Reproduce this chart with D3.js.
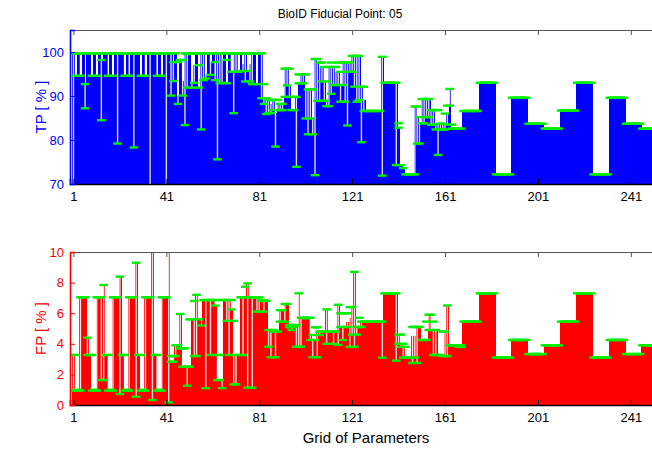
<!DOCTYPE html>
<html>
<head>
<meta charset="utf-8">
<title>BioID Fiducial Point: 05</title>
<script src="https://cdn.jsdelivr.net/npm/d3@7"></script>
<style>
body { margin: 0; background: #fff; }
text { font-family: "Liberation Sans", Arial, Helvetica, sans-serif; }
</style>
</head>
<body>
<script>

// tick labels
var xTicks = [1, 41, 81, 121, 161, 201, 241];
var tpTicks = [70, 80, 90, 100];
var fpTicks = [0, 2, 4, 6, 8, 10];

// TP [%] per grid point (7 points per row)
var tpVal = [
 99.7,94.6,99.7,94.6,99.7,92.7,99.7,
 99.7,94.6,99.7,94.6,99.7,98.2,99.7,
 99.7,94.6,99.7,94.6,99.7,99.7,99.7,
 99.7,94.6,99.7,94.6,99.7,99.7,99.7,
 99.7,94.6,99.7,94.6,99.7,99.7,99.7,
 99.7,94.6,99.7,94.6,99.7,99.7,99.7,
 99.7,97.7,99.7,90.1,98.2,93.4,99.7,
 99.5,99.7,93.0,97.0,99.7,91.9,99.7,
 99.7,94.8,99.7,97.7,99.7,94.5,99.7,
 99.7,98.2,99.7,93.0,99.7,95.2,99.7,
 99.7,95.5,99.7,97.2,99.7,95.7,97.2,
 99.7,99.7,92.7,99.7,99.7,89.5,89.1,
 89.1,88.2,89.1,86.1,88.2,88.0,88.0,
 96.2,96.2,92.4,86.8,86.8,89.8,92.9,
 94.9,94.9,91.5,91.5,91.5,84.9,98.4,
 97.6,96.6,96.6,93.3,88.9,96.6,96.6,
 96.6,95.5,95.5,92.5,97.6,97.6,97.6,
 97.6,99.1,99.1,99.1,99.1,92.1,89.1,
 86.6,86.6,86.6,86.6,86.6,86.6,86.6,
 98.9,93.0,93.0,93.0,93.0,93.0,93.0,
 82.8,74.3,73.6,72.2,72.2,72.2,72.2,
 87.6,85.2,83.8,89.3,89.3,89.3,89.3,
 86.8,86.8,83.7,83.7,83.7,83.7,83.7,
 86.2,91.6,82.6,82.6,82.6,82.6,82.6,
 86.6,86.6,86.6,86.6,86.6,86.6,86.6,
 93.0,93.0,93.0,93.0,93.0,93.0,93.0,
 72.2,72.2,72.2,72.2,72.2,72.2,72.2,
 89.6,89.6,89.6,89.6,89.6,89.6,89.6,
 83.7,83.7,83.7,83.7,83.7,83.7,83.7,
 82.6,82.6,82.6,82.6,82.6,82.6,82.6,
 86.7,86.7,86.7,86.7,86.7,86.7,86.7,
 93.0,93.0,93.0,93.0,93.0,93.0,93.0,
 72.2,72.2,72.2,72.2,72.2,72.2,72.2,
 89.6,89.6,89.6,89.6,89.6,89.6,89.6,
 83.7,83.7,83.7,83.7,83.7,83.7,83.7,
 82.6,82.6,82.6,82.6,82.6,82.6,82.6
];
var tpLo = [
 68.0,94.6,99.7,94.6,99.7,87.2,99.7,
 99.7,94.6,99.7,94.6,99.7,84.5,99.7,
 99.7,94.6,99.7,94.6,99.7,79.2,99.7,
 99.7,94.6,99.7,94.6,99.7,78.3,99.7,
 99.7,94.6,99.7,94.6,99.7,60.0,99.7,
 99.7,94.6,99.7,94.6,99.7,60.0,99.7,
 90.1,93.4,99.7,88.2,98.2,90.1,83.4,
 91.9,99.7,91.9,93.0,99.7,91.9,82.4,
 93.6,94.0,99.7,94.8,99.7,93.6,75.6,
 92.9,93.0,99.7,92.9,99.7,95.5,86.1,
 95.5,95.5,99.7,95.7,93.3,95.7,93.3,
 92.7,99.7,92.7,99.7,89.5,88.2,85.9,
 86.1,86.1,86.8,78.5,86.8,86.8,86.8,
 89.8,92.4,89.8,86.8,86.8,73.9,92.9,
 92.9,92.9,84.9,81.3,84.9,81.3,72.0,
 88.9,88.9,93.3,88.9,87.7,87.7,90.5,
 92.5,92.5,92.5,88.7,92.5,88.7,83.3,
 95.5,95.5,92.1,88.7,89.1,79.5,86.6,
 86.6,86.6,86.6,86.6,86.6,86.6,86.6,
 71.9,93.0,93.0,93.0,93.0,93.0,74.3,
 82.8,74.3,73.6,72.2,72.2,72.2,72.2,
 72.2,79.2,79.2,83.8,83.8,85.2,85.2,
 83.5,83.5,82.4,76.6,82.4,82.4,82.4,
 83.5,87.8,82.6,82.6,82.6,82.6,82.6,
 86.6,86.6,86.6,86.6,86.6,86.6,86.6,
 93.0,93.0,93.0,93.0,93.0,93.0,93.0,
 72.2,72.2,72.2,72.2,72.2,72.2,72.2,
 89.6,89.6,89.6,89.6,89.6,89.6,89.6,
 83.7,83.7,83.7,83.7,83.7,83.7,83.7,
 82.6,82.6,82.6,82.6,82.6,82.6,82.6,
 86.7,86.7,86.7,86.7,86.7,86.7,86.7,
 93.0,93.0,93.0,93.0,93.0,93.0,93.0,
 72.2,72.2,72.2,72.2,72.2,72.2,72.2,
 89.6,89.6,89.6,89.6,89.6,89.6,89.6,
 83.7,83.7,83.7,83.7,83.7,83.7,83.7,
 82.6,82.6,82.6,82.6,82.6,82.6,82.6
];
var tpHi = [
 99.7,99.7,99.7,99.7,99.7,92.7,99.7,
 99.7,99.7,99.7,99.7,99.7,98.2,99.7,
 99.7,99.7,99.7,99.7,99.7,99.7,99.7,
 99.7,99.7,99.7,99.7,99.7,99.7,99.7,
 99.7,99.7,99.7,99.7,99.7,99.7,99.7,
 99.7,99.7,99.7,99.7,99.7,99.7,99.7,
 99.7,97.7,99.7,97.7,98.2,98.2,99.7,
 99.5,99.7,99.7,99.7,99.7,97.0,99.7,
 99.7,99.7,99.7,99.7,99.7,97.7,99.7,
 99.7,99.7,99.7,98.2,99.7,99.7,99.7,
 99.7,99.7,99.7,99.7,99.7,99.7,99.7,
 99.7,99.7,99.7,99.7,99.7,92.7,89.5,
 89.1,89.1,89.1,89.1,89.1,88.2,88.2,
 96.2,96.2,96.2,89.8,86.8,89.8,94.9,
 94.9,94.9,94.9,91.5,91.5,91.5,98.4,
 98.4,97.6,97.6,96.6,93.3,96.6,97.6,
 96.6,96.6,97.6,95.5,97.6,97.6,97.6,
 97.6,99.1,99.1,99.1,99.1,92.1,92.1,
 86.6,86.6,86.6,86.6,86.6,86.6,86.6,
 98.9,93.0,93.0,93.0,93.0,93.0,93.0,
 83.8,74.3,73.6,72.2,72.2,72.2,72.2,
 87.6,87.6,85.2,89.3,89.3,89.3,89.3,
 86.8,86.8,86.8,86.8,83.7,83.7,86.0,
 87.8,91.6,83.5,82.6,82.6,82.6,82.6,
 86.6,86.6,86.6,86.6,86.6,86.6,86.6,
 93.0,93.0,93.0,93.0,93.0,93.0,93.0,
 72.2,72.2,72.2,72.2,72.2,72.2,72.2,
 89.6,89.6,89.6,89.6,89.6,89.6,89.6,
 83.7,83.7,83.7,83.7,83.7,83.7,83.7,
 82.6,82.6,82.6,82.6,82.6,82.6,82.6,
 86.7,86.7,86.7,86.7,86.7,86.7,86.7,
 93.0,93.0,93.0,93.0,93.0,93.0,93.0,
 72.2,72.2,72.2,72.2,72.2,72.2,72.2,
 89.6,89.6,89.6,89.6,89.6,89.6,89.6,
 83.7,83.7,83.7,83.7,83.7,83.7,83.7,
 82.6,82.6,82.6,82.6,82.6,82.6,82.6
];

// FP [%] per grid point
var fpVal = [
 3.27,1.00,1.00,7.04,7.04,7.04,4.40,
 3.27,1.00,1.00,7.04,7.04,7.04,7.84,
 3.27,1.00,1.00,7.04,7.04,7.04,8.39,
 3.27,1.00,1.00,7.04,7.04,7.04,9.30,
 3.27,1.00,1.00,7.04,7.04,7.04,11.0,
 3.27,1.00,1.00,7.04,7.04,7.04,11.0,
 2.83,2.83,3.90,3.90,5.95,2.50,2.50,
 2.50,2.50,5.60,5.60,7.20,5.60,5.20,
 6.86,6.86,6.86,6.86,6.86,6.50,1.63,
 1.63,1.63,6.86,6.86,6.86,6.25,3.27,
 3.27,3.27,7.04,7.04,7.04,7.95,7.04,
 7.04,7.04,7.04,6.80,6.80,6.80,6.80,
 4.90,4.90,4.80,4.80,4.80,6.20,6.20,
 6.60,6.60,5.10,5.10,5.10,5.10,7.30,
 5.70,5.70,5.70,5.70,4.58,4.25,4.25,
 4.80,4.80,4.80,4.80,6.25,4.80,4.80,
 4.80,4.80,6.55,5.10,5.10,5.10,5.40,
 5.70,6.40,8.70,5.10,5.10,5.45,5.45,
 5.45,5.45,5.45,5.45,5.45,5.45,5.45,
 5.45,7.30,7.30,7.30,7.30,7.30,7.30,
 4.60,4.00,3.80,3.10,3.10,3.10,4.50,
 4.50,5.10,5.10,4.25,4.25,4.25,5.90,
 4.90,4.90,4.90,3.27,3.27,3.27,4.80,
 6.50,3.90,3.90,3.90,3.90,3.90,3.90,
 5.45,5.45,5.45,5.45,5.45,5.45,5.45,
 7.30,7.30,7.30,7.30,7.30,7.30,7.30,
 3.10,3.10,3.10,3.10,3.10,3.10,3.10,
 4.25,4.25,4.25,4.25,4.25,4.25,4.25,
 3.33,3.33,3.33,3.33,3.33,3.33,3.33,
 3.90,3.90,3.90,3.90,3.90,3.90,3.90,
 5.45,5.45,5.45,5.45,5.45,5.45,5.45,
 7.30,7.30,7.30,7.30,7.30,7.30,7.30,
 3.10,3.10,3.10,3.10,3.10,3.10,3.10,
 4.25,4.25,4.25,4.25,4.25,4.25,4.25,
 3.33,3.33,3.33,3.33,3.33,3.33,3.33,
 3.90,3.90,3.90,3.90,3.90,3.90,3.90
];
var fpLo = [
 0.94,0.94,0.94,0.94,7.04,7.04,3.27,
 3.27,0.94,0.94,0.94,7.04,1.63,1.63,
 3.27,0.94,0.94,0.94,7.04,7.04,0.72,
 3.27,0.94,0.94,0.94,7.04,7.04,0.54,
 3.27,0.94,0.94,0.94,7.04,7.04,0.33,
 3.27,0.94,0.94,0.94,7.04,7.04,0.17,
 2.83,2.83,3.20,3.90,3.70,2.50,2.50,
 1.26,2.50,5.60,3.20,3.20,5.60,5.20,
 6.86,1.10,6.86,3.27,6.86,6.50,1.63,
 1.63,1.10,6.86,5.50,3.27,6.25,1.35,
 1.35,3.27,7.04,3.27,7.04,1.13,7.04,
 1.13,7.04,6.10,6.10,6.80,6.10,6.80,
 3.81,3.12,4.80,3.12,4.80,5.45,6.20,
 5.45,6.60,5.08,4.90,5.10,3.81,3.81,
 3.81,5.70,5.66,5.70,4.25,3.12,4.25,
 3.12,4.58,4.80,4.80,4.00,4.80,4.80,
 4.00,4.80,3.93,5.10,4.25,5.10,5.10,
 3.80,4.60,3.80,4.60,5.10,5.10,5.45,
 5.45,5.45,5.45,5.45,5.45,5.45,5.45,
 3.09,7.30,7.30,7.30,7.30,7.30,2.90,
 4.00,3.80,3.10,3.10,3.10,3.10,2.75,
 3.10,2.75,5.10,4.25,4.25,4.25,4.90,
 4.90,3.27,3.27,3.27,3.27,3.20,3.20,
 3.20,3.90,3.90,3.90,3.90,3.80,3.80,
 5.45,5.45,5.45,5.45,5.45,5.45,5.45,
 7.30,7.30,7.30,7.30,7.30,7.30,7.30,
 3.10,3.10,3.10,3.10,3.10,3.10,3.10,
 4.25,4.25,4.25,4.25,4.25,4.25,4.25,
 3.33,3.33,3.33,3.33,3.33,3.33,3.33,
 3.90,3.90,3.90,3.90,3.90,3.90,3.90,
 5.45,5.45,5.45,5.45,5.45,5.45,5.45,
 7.30,7.30,7.30,7.30,7.30,7.30,7.30,
 3.10,3.10,3.10,3.10,3.10,3.10,3.10,
 4.25,4.25,4.25,4.25,4.25,4.25,4.25,
 3.33,3.33,3.33,3.33,3.33,3.33,3.33,
 3.90,3.90,3.90,3.90,3.90,3.90,3.90
];
var fpHi = [
 3.27,3.27,1.00,7.04,7.04,7.04,4.40,
 3.27,3.27,1.00,7.04,7.04,7.04,7.84,
 3.27,3.27,1.00,7.04,7.04,7.04,8.39,
 3.27,3.27,1.00,7.04,7.04,7.04,9.30,
 3.27,3.27,1.00,7.04,7.04,7.04,11.0,
 3.27,3.27,1.00,7.04,7.04,7.04,11.0,
 3.20,3.20,3.90,3.90,5.95,3.70,3.70,
 2.50,5.60,5.60,6.80,7.20,5.60,5.20,
 6.86,6.86,6.86,6.86,6.86,6.86,3.27,
 3.27,6.86,6.86,6.86,6.86,6.86,5.50,
 3.27,3.27,7.04,7.04,7.73,7.95,7.04,
 7.04,7.04,7.04,7.04,6.86,6.86,6.80,
 4.90,4.90,4.90,4.80,4.80,6.20,6.20,
 6.60,6.60,5.23,5.23,5.10,5.23,7.30,
 5.70,5.70,5.70,5.70,5.70,4.58,5.08,
 5.08,4.80,4.80,4.80,6.25,4.80,4.80,
 4.80,4.80,6.55,6.00,6.00,6.00,6.00,
 6.40,6.40,8.70,5.10,5.70,5.45,5.45,
 5.45,5.45,5.45,5.45,5.45,5.45,5.45,
 5.45,7.30,7.30,7.30,7.30,7.30,7.30,
 4.60,4.60,4.00,3.80,3.10,3.10,5.10,
 5.10,5.10,5.10,4.25,4.25,5.45,5.90,
 5.90,5.45,4.90,3.27,3.27,4.80,4.80,
 6.50,3.90,3.90,3.90,3.90,3.90,3.90,
 5.45,5.45,5.45,5.45,5.45,5.45,5.45,
 7.30,7.30,7.30,7.30,7.30,7.30,7.30,
 3.10,3.10,3.10,3.10,3.10,3.10,3.10,
 4.25,4.25,4.25,4.25,4.25,4.25,4.25,
 3.33,3.33,3.33,3.33,3.33,3.33,3.33,
 3.90,3.90,3.90,3.90,3.90,3.90,3.90,
 5.45,5.45,5.45,5.45,5.45,5.45,5.45,
 7.30,7.30,7.30,7.30,7.30,7.30,7.30,
 3.10,3.10,3.10,3.10,3.10,3.10,3.10,
 4.25,4.25,4.25,4.25,4.25,4.25,4.25,
 3.33,3.33,3.33,3.33,3.33,3.33,3.33,
 3.90,3.90,3.90,3.90,3.90,3.90,3.90
];

var width = 652, height = 451;
var capColor = "#00ee00";
var capHalf = 4.3;

var svg = d3.select("body").append("svg")
	.attr("width", width).attr("height", height);

// one grid point = 2.32 px, plot runs off the right edge like the original
var xScale = d3.scaleLinear().domain([-0.5, 256.5]).range([70, 666.8]);
var bw = xScale(1) - xScale(0);

var yTP = d3.scaleLinear().domain([70, 105]).range([184, 30]);
var yFP = d3.scaleLinear().domain([0, 10]).range([405, 252]);

var drawPanel = function(id, vals, los, his, yScale, color, yTicks, ylab) {
	var top = yScale.range()[1], bottom = yScale.range()[0];
	var left = xScale.range()[0];
	var base = yScale.domain()[0];

	svg.append("clipPath").attr("id", id)
		.append("rect").attr("x", left).attr("y", top)
		.attr("width", width).attr("height", bottom - top);

	var plot = svg.append("g").attr("clip-path", "url(#" + id + ")");

	plot.selectAll("rect").data(vals).join("rect")
		.attr("x", (d, i) => xScale(i + 0.5))
		.attr("width", bw + 0.6)
		.attr("y", d => yScale(d))
		.attr("height", d => yScale(base) - yScale(d))
		.attr("fill", color)
		.attr("shape-rendering", "crispEdges");

	var idx = d3.range(vals.length).filter(i => his[i] > los[i]);

	// error bar stems (white)
	plot.selectAll("line.stem").data(idx).join("line")
		.attr("class", "stem")
		.attr("x1", i => xScale(i + 1)).attr("x2", i => xScale(i + 1))
		.attr("y1", i => yScale(los[i])).attr("y2", i => yScale(his[i]))
		.attr("stroke", "#ffffff").attr("stroke-opacity", 0.85)
		.attr("stroke-width", 1.4);

	// caps (green)
	var caps = [];
	vals.forEach(function(d, i) {
		caps.push({i: i, v: los[i]});
		if (his[i] != los[i]) caps.push({i: i, v: his[i]});
	});
	plot.selectAll("line.cap").data(caps).join("line")
		.attr("class", "cap")
		.attr("x1", d => xScale(d.i + 1) - capHalf).attr("x2", d => xScale(d.i + 1) + capHalf)
		.attr("y1", d => yScale(d.v)).attr("y2", d => yScale(d.v))
		.attr("stroke", capColor).attr("stroke-width", 2.4);

	// top border
	var topAx = svg.append("g").attr("transform", "translate(0," + top + ")")
		.call(d3.axisTop(xScale).tickValues(xTicks).tickSize(-5).tickFormat(""));
	topAx.select(".domain").attr("stroke", "#555");
	topAx.selectAll(".tick line").attr("stroke", "#555");

	// bottom axis
	var botAx = svg.append("g").attr("transform", "translate(0," + bottom + ")")
		.call(d3.axisBottom(xScale).tickValues(xTicks).tickSize(-5).tickPadding(8));
	botAx.select(".domain").attr("stroke", "#000").attr("stroke-width", 1.6);
	botAx.selectAll("text").attr("font-size", "13px").attr("fill", "#000")
		.attr("font-family", "'Liberation Sans', Arial, sans-serif");

	// left axis
	var leftAx = svg.append("g").attr("transform", "translate(" + left + ",0)")
		.call(d3.axisLeft(yScale).tickValues(yTicks).tickSize(-5).tickPadding(6));
	leftAx.select(".domain").attr("stroke", color).attr("stroke-width", 1.6);
	leftAx.selectAll(".tick line").attr("stroke", color);
	leftAx.selectAll("text").attr("font-size", "13px").attr("fill", color)
		.attr("font-family", "'Liberation Sans', Arial, sans-serif");

	svg.append("text")
		.attr("transform", "translate(46," + ((top + bottom) / 2) + ") rotate(-90)")
		.attr("text-anchor", "middle")
		.attr("font-size", "15px")
		.attr("fill", color)
		.text(ylab);
};

drawPanel("clipTP", tpVal, tpLo, tpHi, yTP, "#0000ff", tpTicks, "TP [ % ]");
drawPanel("clipFP", fpVal, fpLo, fpHi, yFP, "#ff0000", fpTicks, "FP [ % ]");

svg.append("text")
	.attr("x", 340).attr("y", 18)
	.attr("text-anchor", "middle")
	.attr("font-size", "12px")
	.attr("fill", "#000")
	.text("BioID Fiducial Point: 05");

svg.append("text")
	.attr("x", 366).attr("y", 443)
	.attr("text-anchor", "middle")
	.attr("font-size", "15px")
	.attr("fill", "#000")
	.text("Grid of Parameters");

</script>
</body>
</html>
